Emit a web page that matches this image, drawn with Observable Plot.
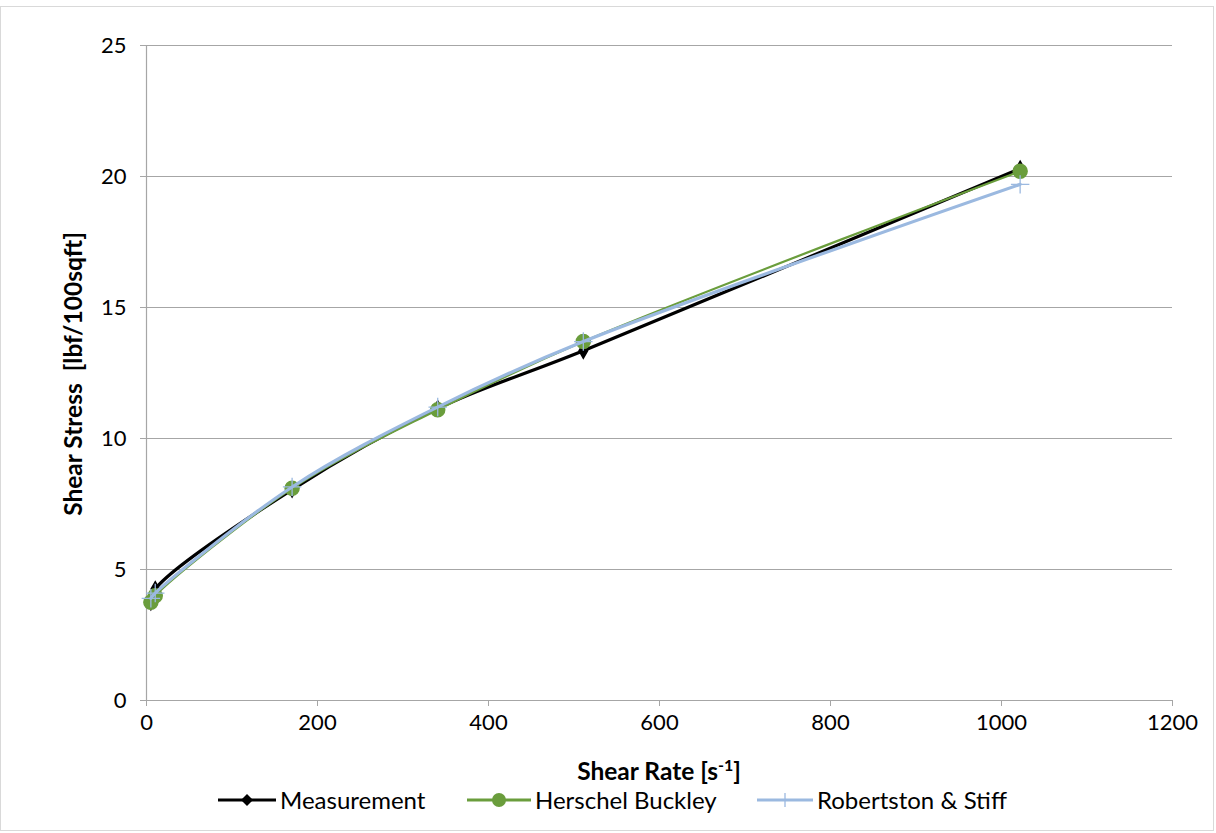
<!DOCTYPE html>
<html><head><meta charset="utf-8">
<script src="https://cdn.jsdelivr.net/npm/d3@7"></script>
<script src="https://cdn.jsdelivr.net/npm/@observablehq/plot@0.6"></script>
<style>
body{margin:0;background:#fff;font-family:Lato,"Open Sans",sans-serif;}
#frame{position:absolute;left:0;top:6px;width:1212px;height:823px;border:1px solid #d9d9d9;}
#chart{position:absolute;left:0;top:0;}
#legend{position:absolute;left:0;top:787px;width:1216px;height:26px;font-size:24px;line-height:26px;color:#000;}
.item{position:absolute;top:0;display:flex;align-items:center;height:26px;}
.item svg{margin-right:4px;}
</style></head><body>
<div id="frame"></div>
<div id="chart"></div>
<div id="legend"></div>
<script>
const shearRate = [5.11, 10.22, 170.3, 340.6, 510.9, 1021.8];
const measurement = [3.75, 4.25, 8.05, 11.15, 13.35, 20.3];
const herschelBuckley = [3.75, 4.0, 8.1, 11.1, 13.7, 20.2];
const robertsonStiff = [3.9, 4.1, 8.15, 11.2, 13.7, 19.7];
const seriesNames = ["Measurement", "Herschel Buckley", "Robertston & Stiff"];
const yTicks = [0, 5, 10, 15, 20, 25];
const xTicks = [0, 200, 400, 600, 800, 1000, 1200];

const rows = (vals) => shearRate.map((x, i) => ({x, y: vals[i]}));
const meas = rows(measurement), hb = rows(herschelBuckley), rs = rows(robertsonStiff);

const colors = {meas: "#000000", hb: "#6a9d3c", rs: "#9bb9e0"};

const chart = Plot.plot({
  width: 1216, height: 787,
  marginLeft: 146, marginRight: 44, marginTop: 45, marginBottom: 87,
  style: {fontFamily: "Lato, 'Open Sans', sans-serif", fontSize: "22px", color: "#000", background: "transparent"},
  x: {domain: [0, 1200], ticks: xTicks, label: null},
  y: {domain: [0, 25], ticks: yTicks, label: null},
  marks: [
    Plot.gridY(yTicks.slice(1), {stroke: "#a6a6a6", strokeOpacity: 1, strokeWidth: 1}),
    Plot.ruleY([0], {stroke: "#a6a6a6", strokeWidth: 1.2}),
    Plot.ruleX([0], {stroke: "#a6a6a6", strokeWidth: 1.2}),
    Plot.axisX({ticks: xTicks, tickSize: 6, stroke: "#a6a6a6", tickPadding: 8, fontSize: 22, tickFormat: "d", label: null}),
    Plot.axisY({ticks: yTicks, tickSize: 6, stroke: "#a6a6a6", tickPadding: 14, fontSize: 22, tickFormat: "d", label: null}),
    Plot.line(meas, {x: "x", y: "y", stroke: colors.meas, strokeWidth: 3.2, curve: "catmull-rom"}),
    Plot.dot(meas, {x: "x", y: "y", symbol: "diamond", r: 4.5, fill: colors.meas, stroke: colors.meas}),
    Plot.line(hb, {x: "x", y: "y", stroke: colors.hb, strokeWidth: 2.2, curve: "catmull-rom"}),
    Plot.dot(hb, {x: "x", y: "y", symbol: "circle", r: 7, fill: colors.hb, stroke: colors.hb}),
    Plot.line(rs, {x: "x", y: "y", stroke: colors.rs, strokeWidth: 3.2, curve: "catmull-rom"}),
    Plot.dot(rs, {x: "x", y: "y", symbol: "plus", r: 6, stroke: colors.rs, strokeWidth: 1.3})
  ]
});
document.getElementById("chart").appendChild(chart);

// axis titles as SVG text
const svg = d3.select(chart);
svg.append("text").attr("x", 659).attr("y", 780).attr("text-anchor", "middle")
  .attr("font-weight", "bold").attr("font-size", 24.5).attr("font-family", "Lato, sans-serif")
  .html('Shear Rate [s<tspan dy="-9" font-size="16">-1</tspan><tspan dy="9">]</tspan>');
svg.append("text").attr("transform", "translate(82,374) rotate(-90)").attr("text-anchor", "middle")
  .attr("font-weight", "bold").attr("font-size", 24.5).attr("font-family", "Lato, sans-serif")
  .text("Shear Stress  [lbf/100sqft]");

// legend
const legendItems = [
  {name: seriesNames[0], color: colors.meas, sym: "diamond", left: 218, sw: 58},
  {name: seriesNames[1], color: colors.hb, sym: "circle", left: 467, sw: 64},
  {name: seriesNames[2], color: colors.rs, sym: "plus", left: 757, sw: 56}
];
const leg = document.getElementById("legend");
for (const it of legendItems) {
  const d = document.createElement("div");
  d.className = "item"; d.style.left = it.left + "px";
  const c = it.sw / 2;
  let m = "";
  if (it.sym === "diamond") m = `<path d="M${c},7 L${c+6},13 L${c},19 L${c-6},13Z" fill="${it.color}"/>`;
  if (it.sym === "circle") m = `<circle cx="${c}" cy="13" r="7" fill="${it.color}"/>`;
  if (it.sym === "plus") m = `<path d="M${c},6 V20" stroke="${it.color}" stroke-width="1.3"/>`;
  d.innerHTML = `<svg width="${it.sw}" height="26"><line x1="0" x2="${it.sw}" y1="13" y2="13" stroke="${it.color}" stroke-width="3.2"/>${m}</svg><span>${it.name}</span>`;
  leg.appendChild(d);
}
</script>
</body></html>
